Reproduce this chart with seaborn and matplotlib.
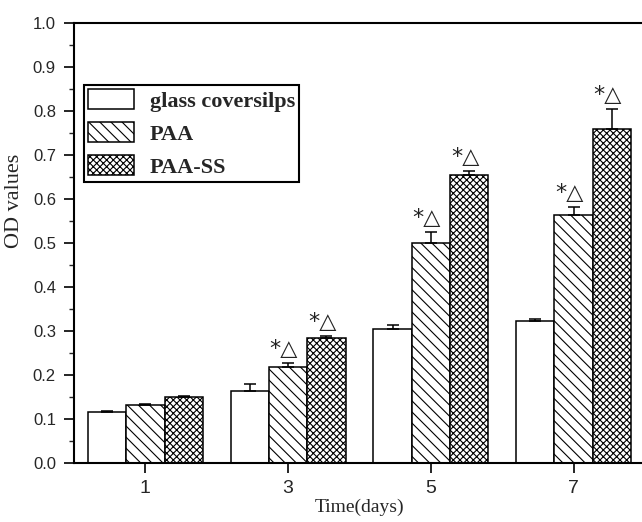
import numpy as np
import pandas as pd
import matplotlib
matplotlib.use("Agg")
import matplotlib.pyplot as plt
from matplotlib.patches import Rectangle
from matplotlib.ticker import MultipleLocator
import seaborn as sns

# ---- data ----
days = [1, 3, 5, 7]
groups = ["glass coversilps", "PAA", "PAA-SS"]
glass_vals = [0.115, 0.164, 0.304, 0.322]
glass_err = [0.004, 0.016, 0.010, 0.005]
paa_vals = [0.131, 0.218, 0.499, 0.564]
paa_err = [0.003, 0.009, 0.025, 0.018]
paass_vals = [0.150, 0.283, 0.655, 0.758]
paass_err = [0.003, 0.005, 0.009, 0.046]
y_ticks = [0.0, 0.1, 0.2, 0.3, 0.4, 0.5, 0.6, 0.7, 0.8, 0.9, 1.0]
annot_text = "*\u25B3"
annot_groups = ["PAA", "PAA-SS"]
annot_days = [3, 5, 7]

sns.set_style("ticks")
plt.rcParams["hatch.linewidth"] = 0.8
plt.rcParams["hatch.color"] = "black"

values = {"glass coversilps": glass_vals, "PAA": paa_vals, "PAA-SS": paass_vals}
errors = {"glass coversilps": glass_err, "PAA": paa_err, "PAA-SS": paass_err}
rows = []
for g in groups:
    for d, v in zip(days, values[g]):
        rows.append({"day": d, "od": v, "group": g})
df = pd.DataFrame(rows)

fig = plt.figure(figsize=(6.42, 5.22), dpi=100)
ax = fig.add_axes([74 / 642, 1 - 463 / 522, 571 / 642, 440 / 522])

sns.barplot(data=df, x="day", y="od", hue="group", hue_order=groups,
            native_scale=True, width=0.805, palette=["white"] * 3,
            edgecolor="black", linewidth=1.1, errorbar=None, legend=False,
            saturation=1, ax=ax)

hatches = {"glass coversilps": "", "PAA": "\\\\\\", "PAA-SS": "xxxxx"}
for g, cont in zip(groups, ax.containers):
    for bar, d, v, e in zip(cont.patches, days, values[g], errors[g]):
        bar.set_hatch(hatches[g])
        cx = bar.get_x() + bar.get_width() / 2
        ax.errorbar([cx], [v], yerr=[[0], [e]], fmt="none", ecolor="black",
                    elinewidth=1.1, capsize=4, capthick=1.1, zorder=3)
        if g in annot_groups and d in annot_days:
            ax.annotate(annot_text, xy=(cx, v + e), xytext=(-3, 3),
                        textcoords="offset points", ha="center", va="bottom",
                        fontsize=16, family=["DejaVu Sans"], color="#222222")

ax.set_xlim(0, 8)
ax.set_ylim(0, 1.0)
ax.set_xticks(days)
ax.set_xticklabels([str(d) for d in days])
ax.set_yticks(y_ticks)
ax.set_yticklabels([f"{t:.1f}" for t in y_ticks])
ax.yaxis.set_minor_locator(MultipleLocator(0.05))

for lab in ax.get_xticklabels():
    lab.set_family(["Liberation Sans"])
    lab.set_fontsize(14)
for lab in ax.get_yticklabels():
    lab.set_family(["Liberation Sans"])
    lab.set_fontsize(12)

ax.tick_params(axis="both", which="major", direction="out", length=7, width=1.2,
               color="black", pad=5)
ax.tick_params(axis="y", which="minor", direction="out", length=3.5, width=1.0)
ax.tick_params(axis="y", which="major", pad=6)

for s in ["left", "bottom", "top", "right"]:
    ax.spines[s].set_linewidth(1.5)
    ax.spines[s].set_color("black")

ax.set_xlabel("Time(days)", family=["Liberation Serif"], fontsize=14)
ax.set_ylabel("OD values", family=["Liberation Serif"], fontsize=16)
ax.xaxis.set_label_coords(0.5, -0.082)
ax.yaxis.set_label_coords(-0.087, 0.595)

handles = []
for g in groups:
    handles.append(Rectangle((0, 0), 1, 1, facecolor="white", edgecolor="black",
                             linewidth=1.1, hatch=hatches[g]))
leg = ax.legend(handles, groups, loc="upper left", bbox_to_anchor=(0.0175, 0.859),
                borderaxespad=0, frameon=True, fancybox=False, edgecolor="black",
                handlelength=2.07, handleheight=1.0, labelspacing=0.46,
                handletextpad=0.68, borderpad=0.2,
                prop={"family": "Liberation Serif", "weight": "bold", "size": 16})
leg.get_frame().set_linewidth(1.5)
leg.get_frame().set_alpha(1)

fig.savefig("out.png", dpi=100)
